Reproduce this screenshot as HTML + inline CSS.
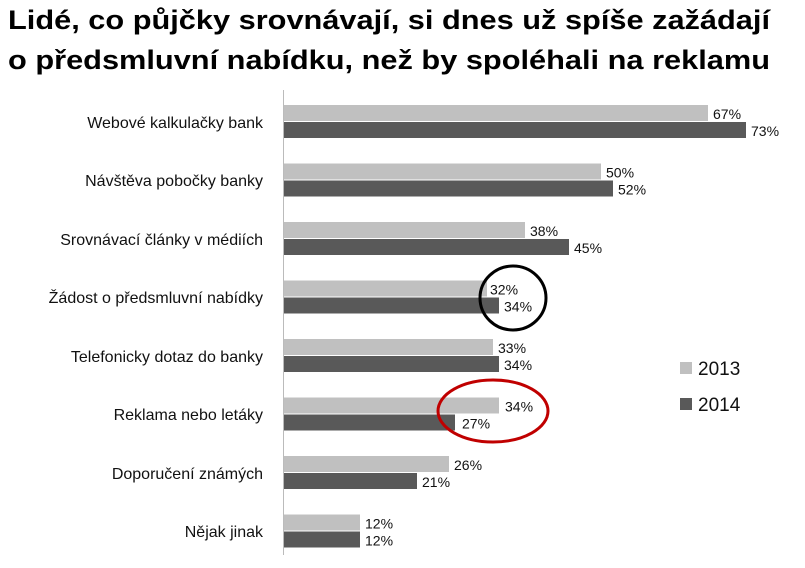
<!DOCTYPE html>
<html><head><meta charset="utf-8"><style>body{margin:0;background:#fff}svg{display:block}</style></head><body>
<svg width="805" height="568" xmlns="http://www.w3.org/2000/svg" font-family="Liberation Sans, DejaVu Sans, sans-serif">
<text x="8" y="29" font-size="27" font-weight="bold" textLength="762" lengthAdjust="spacingAndGlyphs">Lidé, co půjčky srovnávají, si dnes už spíše zažádají</text>
<text x="8" y="69" font-size="27" font-weight="bold" textLength="762" lengthAdjust="spacingAndGlyphs">o předsmluvní nabídku, než by spoléhali na reklamu</text>
<line x1="283.5" y1="90" x2="283.5" y2="555" stroke="#bbb" stroke-width="1"/>
<g font-size="16" text-anchor="end" fill="#111">
<text x="263" y="128">Webové kalkulačky bank</text>
<text x="263" y="186">Návštěva pobočky banky</text>
<text x="263" y="245">Srovnávací články v médiích</text>
<text x="263" y="303">Žádost o předsmluvní nabídky</text>
<text x="263" y="362">Telefonicky dotaz do banky</text>
<text x="263" y="420">Reklama nebo letáky</text>
<text x="263" y="479">Doporučení známých</text>
<text x="263" y="537">Nějak jinak</text>
</g>
<g fill="#c0c0c0">
<rect x="284" y="105" width="424" height="16"/>
<rect x="284" y="163.5" width="317" height="16"/>
<rect x="284" y="222" width="241" height="16"/>
<rect x="284" y="280.5" width="203" height="16"/>
<rect x="284" y="339" width="209" height="16"/>
<rect x="284" y="397.5" width="215" height="16"/>
<rect x="284" y="456" width="165" height="16"/>
<rect x="284" y="514.5" width="76" height="16"/>
</g>
<g fill="#595959">
<rect x="284" y="122" width="462" height="16"/>
<rect x="284" y="180.5" width="329" height="16"/>
<rect x="284" y="239" width="285" height="16"/>
<rect x="284" y="297.5" width="215" height="16"/>
<rect x="284" y="356" width="215" height="16"/>
<rect x="284" y="414.5" width="171" height="16"/>
<rect x="284" y="473" width="133" height="16"/>
<rect x="284" y="531.5" width="76" height="16"/>
</g>
<g font-size="14" fill="#111">
<text x="713" y="119">67%</text><text x="751" y="136">73%</text>
<text x="606" y="177.5">50%</text><text x="618" y="194.5">52%</text>
<text x="530" y="236">38%</text><text x="574" y="253">45%</text>
<text x="490" y="294.5">32%</text><text x="504" y="311.5">34%</text>
<text x="498" y="353">33%</text><text x="504" y="370">34%</text>
<text x="505" y="411.5">34%</text><text x="462" y="428.5">27%</text>
<text x="454" y="470">26%</text><text x="422" y="487">21%</text>
<text x="365" y="528.5">12%</text><text x="365" y="545.5">12%</text>
</g>
<ellipse cx="513" cy="298" rx="33" ry="32" fill="none" stroke="#000" stroke-width="3"/>
<ellipse cx="493" cy="411" rx="55" ry="31" fill="none" stroke="#c00000" stroke-width="3"/>
<rect x="680" y="362" width="12" height="12" fill="#c0c0c0"/>
<rect x="680" y="398" width="12" height="12" fill="#595959"/>
<text x="698" y="375" font-size="19" fill="#111">2013</text>
<text x="698" y="411" font-size="19" fill="#111">2014</text>
</svg>
</body></html>
